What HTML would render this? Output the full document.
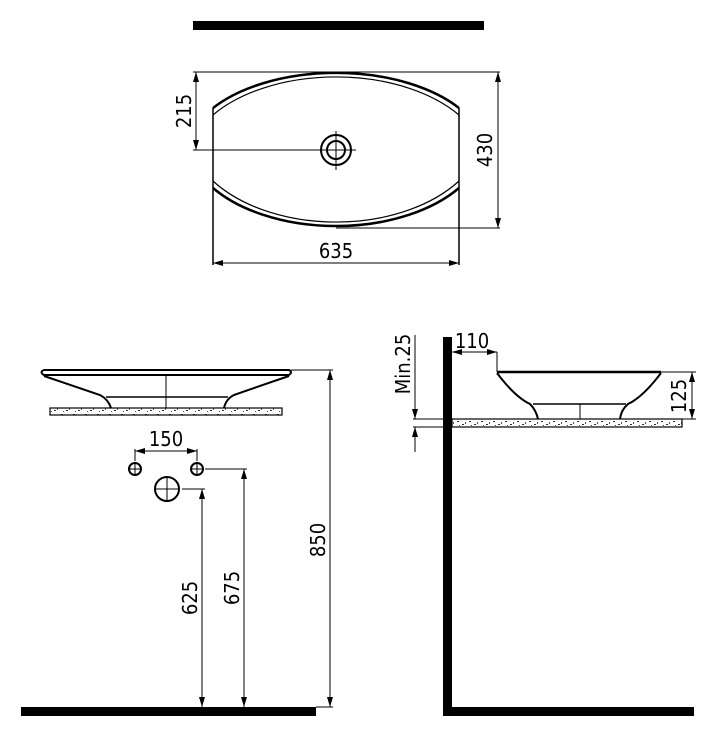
<!DOCTYPE html>
<html><head><style>
html,body{margin:0;padding:0;background:#fff;}
svg{display:block;}
text{font-family:"DejaVu Sans Condensed","Liberation Sans",sans-serif;font-size:20px;fill:#000;}
</style></head><body>
<svg width="716" height="738" viewBox="0 0 716 738" xmlns="http://www.w3.org/2000/svg">
<defs>
<marker id="a" viewBox="0 0 10 6" refX="10" refY="3" markerWidth="10" markerHeight="6" markerUnits="userSpaceOnUse" orient="auto-start-reverse"><path d="M0,0 L10,3 L0,6 z" fill="#000"/></marker>
<pattern id="sp" width="12" height="7" patternUnits="userSpaceOnUse"><rect width="12" height="7" fill="#fff"/><rect x="1" y="1" width="2" height="1" fill="#333"/><rect x="6" y="4" width="2" height="1" fill="#333"/><rect x="9" y="2" width="1" height="2" fill="#555"/><rect x="3" y="5" width="1" height="1" fill="#444"/></pattern>
</defs>
<g stroke="#000" fill="none">
<rect x="193" y="21" width="291" height="9" fill="#000" stroke="none"/>
<path d="M213,108 A150,82 0 0 1 459,108" stroke-width="2.5"/>
<path d="M213,115 A150,89 0 0 1 459,115" stroke-width="1.2"/>
<path d="M459,188 A150,89 0 0 1 213,188" stroke-width="2.5"/>
<path d="M459,181 A150,96 0 0 1 213,181" stroke-width="1.2"/>
<line x1="213" y1="108" x2="213" y2="265" stroke-width="1.5"/>
<line x1="459" y1="108" x2="459" y2="265" stroke-width="1.5"/>
<circle cx="336" cy="150" r="15" stroke-width="2"/>
<circle cx="336" cy="150" r="9" stroke-width="2"/>
<line x1="336" y1="131" x2="336" y2="170" stroke-width="1"/>
<line x1="193" y1="150" x2="356" y2="150" stroke-width="1"/>
<line x1="193" y1="72" x2="500" y2="72" stroke-width="1"/>
<line x1="336" y1="228" x2="500" y2="228" stroke-width="1"/>
<line x1="196" y1="72" x2="196" y2="150" stroke-width="1" marker-start="url(#a)" marker-end="url(#a)"/>
<line x1="498" y1="72" x2="498" y2="228" stroke-width="1" marker-start="url(#a)" marker-end="url(#a)"/>
<line x1="213" y1="263" x2="459" y2="263" stroke-width="1" marker-start="url(#a)" marker-end="url(#a)"/>

<path d="M44,370 L289,370 Q293,372 289,375 L44,375 Q39,372 44,370 Z" stroke-width="2"/>
<path d="M44,376 Q85,390 100,395 Q108,399 111,408" stroke-width="2"/>
<path d="M289,376 Q248,390 234,395 Q226,399 224,408" stroke-width="2"/>
<line x1="106" y1="397" x2="228" y2="397" stroke-width="1.5"/>
<line x1="166" y1="375" x2="166" y2="408" stroke-width="1"/>
<rect x="50" y="408" width="232" height="7" fill="url(#sp)" stroke-width="1.2"/>
<line x1="291" y1="370" x2="333" y2="370" stroke-width="1"/>
<line x1="330" y1="370" x2="330" y2="707" stroke-width="1" marker-start="url(#a)" marker-end="url(#a)"/>
<line x1="316" y1="707" x2="333" y2="707" stroke-width="1"/>
<circle cx="135" cy="469" r="6" stroke-width="2"/>
<line x1="129" y1="469" x2="141" y2="469" stroke-width="1"/><line x1="135" y1="463" x2="135" y2="475" stroke-width="1"/>
<circle cx="197" cy="469" r="6" stroke-width="2"/>
<line x1="191" y1="469" x2="203" y2="469" stroke-width="1"/><line x1="197" y1="463" x2="197" y2="475" stroke-width="1"/>
<circle cx="167" cy="489" r="12" stroke-width="2"/>
<line x1="155" y1="489" x2="179" y2="489" stroke-width="1"/><line x1="167" y1="477" x2="167" y2="501" stroke-width="1"/>
<line x1="135" y1="449" x2="135" y2="461" stroke-width="1"/>
<line x1="197" y1="449" x2="197" y2="461" stroke-width="1"/>
<line x1="135" y1="451" x2="197" y2="451" stroke-width="1" marker-start="url(#a)" marker-end="url(#a)"/>
<line x1="205" y1="469" x2="247" y2="469" stroke-width="1"/>
<line x1="244" y1="469" x2="244" y2="707" stroke-width="1" marker-start="url(#a)" marker-end="url(#a)"/>
<line x1="182" y1="489" x2="205" y2="489" stroke-width="1"/>
<line x1="202" y1="489" x2="202" y2="707" stroke-width="1" marker-start="url(#a)" marker-end="url(#a)"/>
<rect x="21" y="707" width="295" height="9" fill="#000" stroke="none"/>

<rect x="443" y="337" width="9" height="379" fill="#000" stroke="none"/>
<rect x="443" y="707" width="251" height="9" fill="#000" stroke="none"/>
<rect x="452" y="419" width="230" height="8" fill="url(#sp)" stroke-width="1.2"/>
<line x1="497" y1="372" x2="661" y2="372" stroke-width="2.5"/>
<path d="M497,373 Q515,397 530,404 Q536,410 538,419" stroke-width="2"/>
<path d="M661,373 Q643,397 628,404 Q621,410 620,419" stroke-width="2"/>
<line x1="533" y1="404" x2="626" y2="404" stroke-width="1.5"/>
<line x1="580" y1="404" x2="580" y2="419" stroke-width="1"/>
<line x1="497" y1="352" x2="497" y2="372" stroke-width="1"/>
<line x1="452" y1="352" x2="497" y2="352" stroke-width="1" marker-start="url(#a)" marker-end="url(#a)"/>
<line x1="661" y1="372" x2="696" y2="372" stroke-width="1"/>
<line x1="682" y1="419" x2="696" y2="419" stroke-width="1"/>
<line x1="692" y1="372" x2="692" y2="419" stroke-width="1" marker-start="url(#a)" marker-end="url(#a)"/>
<line x1="413" y1="419" x2="443" y2="419" stroke-width="1"/>
<line x1="413" y1="427" x2="443" y2="427" stroke-width="1"/>
<line x1="415" y1="335" x2="415" y2="419" stroke-width="1" marker-end="url(#a)"/>
<line x1="415" y1="452" x2="415" y2="427" stroke-width="1" marker-end="url(#a)"/>
</g>
<text x="336" y="258" text-anchor="middle">635</text>
<text transform="translate(191,111) rotate(-90)" text-anchor="middle">215</text>
<text transform="translate(492,150) rotate(-90)" text-anchor="middle">430</text>
<text x="166" y="446" text-anchor="middle">150</text>
<text transform="translate(325,540) rotate(-90)" text-anchor="middle">850</text>
<text transform="translate(197,598) rotate(-90)" text-anchor="middle">625</text>
<text transform="translate(239,588) rotate(-90)" text-anchor="middle">675</text>
<text x="472" y="348" text-anchor="middle">110</text>
<text transform="translate(686,396) rotate(-90)" text-anchor="middle">125</text>
<text transform="translate(410,364) rotate(-90)" text-anchor="middle">Min.25</text>
</svg>
</body></html>
